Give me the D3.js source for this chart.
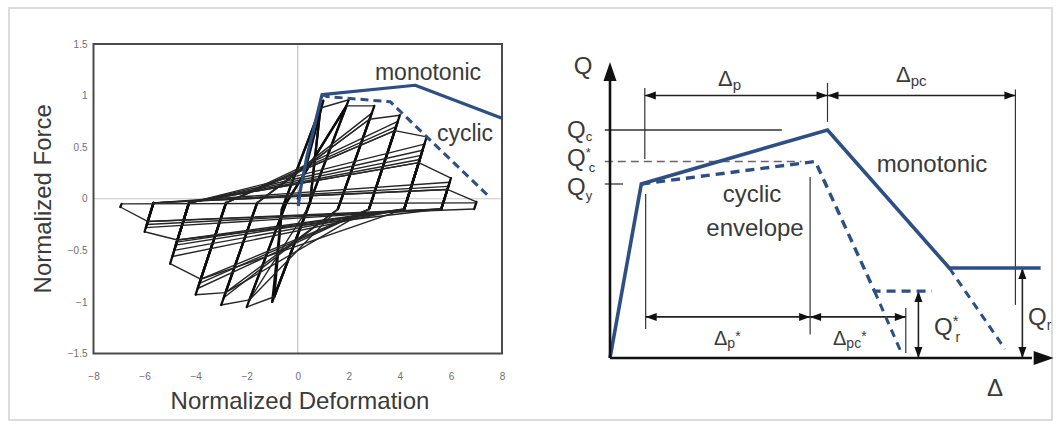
<!DOCTYPE html>
<html>
<head>
<meta charset="utf-8">
<script src="https://cdn.jsdelivr.net/npm/d3@7"></script>
<style>
  html, body { margin: 0; padding: 0; background: #fff; }
  svg { display: block; font-family: "Liberation Sans", Arial, Helvetica, sans-serif; }
</style>
</head>
<body>
<svg id="fig" width="1060" height="427"></svg>
<script>
// ---------- Left panel: normalized hysteresis response ----------
const xTicks = [-8, -6, -4, -2, 0, 2, 4, 6, 8];
const yTicks = [1.5, 1, 0.5, 0, -0.5, -1, -1.5];

// monotonic backbone (deformation, force)
const monotonicDef   = [0.02, 0.1, 0.36, 0.95, 4.6, 8.0];
const monotonicForce = [-0.07, 0.08, 0.41, 1.01, 1.1, 0.78];

// cyclic envelope
const cyclicDef   = [0.95, 1.15, 3.62, 7.5];
const cyclicForce = [1.01, 0.99, 0.94, 0.02];

// cyclic load path: [deformation, force]
const loopPath = [
  [0, 0], [1.0, 0.95], [-0.62, -0.1], [-1.0, -1.0], [0.48, -0.04],
  [0.89, 0.88], [-0.62, -0.1], [-0.92, -0.95], [0.48, -0.04],
  [0.89, 0.88], [2.0, 0.96], [0.37, -0.1], [-0.92, -0.95], [-2.0, -1.05], [-0.45, -0.04],
  [1.91, 0.9], [0.37, -0.1], [-1.89, -0.98], [-0.45, -0.04],
  [1.91, 0.9], [3.0, 0.9], [1.57, -0.1], [-1.89, -0.98], [-3.0, -1.03], [-1.59, -0.04],
  [2.9, 0.83], [1.57, -0.1], [-2.9, -0.96], [-1.59, -0.04],
  [2.81, 0.77], [1.57, -0.1], [-2.83, -0.91], [-1.59, -0.04],
  [2.81, 0.77], [4.0, 0.81], [2.79, -0.1], [-2.83, -0.91], [-4.0, -0.93], [-2.81, -0.04],
  [3.92, 0.75], [2.79, -0.1], [-3.92, -0.87], [-2.81, -0.04],
  [3.85, 0.7], [2.79, -0.1], [-3.85, -0.82], [-2.81, -0.04],
  [3.8, 0.66], [2.79, -0.1], [-3.8, -0.78], [-2.81, -0.04],
  [3.8, 0.66], [5.05, 0.6], [4.17, -0.1], [-3.8, -0.78], [-5.0, -0.63], [-4.26, -0.04],
  [4.96, 0.53], [4.17, -0.1], [-4.91, -0.56], [-4.26, -0.04],
  [4.89, 0.47], [4.17, -0.1], [-4.84, -0.5], [-4.26, -0.04],
  [4.83, 0.42], [4.17, -0.1], [-4.78, -0.45], [-4.26, -0.04],
  [4.78, 0.38], [4.17, -0.1], [-4.74, -0.42], [-4.26, -0.04],
  [4.74, 0.35], [4.17, -0.1], [-4.71, -0.4], [-4.26, -0.04],
  [4.74, 0.35], [6.0, 0.2], [5.62, -0.1], [-4.71, -0.4], [-6.0, -0.32], [-5.65, -0.04],
  [5.95, 0.16], [5.62, -0.1], [-5.95, -0.28], [-5.65, -0.04],
  [5.9, 0.12], [5.62, -0.1], [-5.91, -0.25], [-5.65, -0.04],
  [5.86, 0.09], [5.62, -0.1], [-5.88, -0.22], [-5.65, -0.04],
  [5.86, 0.09], [7.0, -0.03], [6.91, -0.1], [-5.88, -0.22], [-6.95, -0.08],
  [-6.9, -0.05], [7.0, -0.04]
];

// ---------- Right panel: idealized backbone ----------
const backboneDelta = [0, 0.72, 5.0, 7.8, 9.9];
const backboneQ     = [0, 5.8, 7.6, 3.0, 3.0];
const cyclicEnvDelta = [0.72, 4.72, 6.08, 7.4];
const cyclicEnvQ     = [5.8, 6.55, 2.23, 2.23];
const cyclicTailDelta = [6.08, 6.72];
const cyclicTailQ     = [2.23, 0.1];
const monoTailDelta = [7.8, 9.08];
const monoTailQ     = [3.0, 0.3];

const Qc = 7.6, QcStar = 6.55, Qy = 5.8, QrStar = 2.23, Qr = 3.0;

const svg = d3.select("#fig");
const blue = "#2e4f83";
const ink = "#222";
const textCol = "#3a3a3a";

// outer frame
svg.append("rect")
  .attr("x", 9).attr("y", 8).attr("width", 1043).attr("height", 412)
  .attr("fill", "none").attr("stroke", "#dcdcdc").attr("stroke-width", 2);

// ===== Left panel =====
const xL = d3.scaleLinear().domain([-8, 8]).range([93.5, 502]);
const yL = d3.scaleLinear().domain([-1.5, 1.5]).range([353.5, 44]);
const gL = svg.append("g");

// zero reference lines
gL.append("line")
  .attr("x1", xL(0)).attr("x2", xL(0)).attr("y1", yL(1.5)).attr("y2", yL(-1.5))
  .attr("stroke", "#b8b8b8").attr("stroke-width", 1);
gL.append("line")
  .attr("x1", xL(-8)).attr("x2", xL(8)).attr("y1", yL(0)).attr("y2", yL(0))
  .attr("stroke", "#c8c8c8").attr("stroke-width", 1);

// axes (labels only; frame drawn separately)
const axB = gL.append("g").attr("transform", `translate(0,${yL(-1.5)})`)
  .call(d3.axisBottom(xL).tickValues(xTicks).tickSize(0).tickPadding(19));
const axLft = gL.append("g").attr("transform", `translate(${xL(-8)},0)`)
  .call(d3.axisLeft(yL).tickValues(yTicks).tickSize(0).tickPadding(6).tickFormat(d3.format("")));
[axB, axLft].forEach(a => {
  a.select(".domain").remove();
  a.selectAll("text").attr("font-size", 10).attr("fill", "#707070")
    .attr("font-family", "'Liberation Sans Narrow','Liberation Sans',Arial,sans-serif");
});

// load path: steep branches heavier than shallow reloading branches
const steep = d => {
  const dx = Math.abs(xL(d[1][0]) - xL(d[0][0])), dy = Math.abs(yL(d[1][1]) - yL(d[0][1]));
  return dy > 1.6 * dx;
};
const segs = d3.pairs(loopPath);
gL.append("g").selectAll("line").data(segs).join("line")
  .attr("x1", d => xL(d[0][0])).attr("y1", d => yL(d[0][1]))
  .attr("x2", d => xL(d[1][0])).attr("y2", d => yL(d[1][1]))
  .attr("stroke", d => steep(d) ? "#0d0d0d" : "#262626")
  .attr("stroke-width", d => steep(d) ? 2.3 : 1.4)
  .attr("stroke-linecap", "round");

// plot frame
gL.append("rect")
  .attr("x", xL(-8)).attr("y", yL(1.5))
  .attr("width", xL(8) - xL(-8)).attr("height", yL(-1.5) - yL(1.5))
  .attr("fill", "none").attr("stroke", "#4a4a4a").attr("stroke-width", 2);

const lineL = d3.line().x(d => xL(d[0])).y(d => yL(d[1]));
gL.append("path")
  .attr("d", lineL(d3.zip(monotonicDef, monotonicForce)))
  .attr("fill", "none").attr("stroke", blue).attr("stroke-width", 3.2)
  .attr("stroke-linejoin", "round");
gL.append("path")
  .attr("d", lineL(d3.zip(cyclicDef, cyclicForce)))
  .attr("fill", "none").attr("stroke", blue).attr("stroke-width", 3)
  .attr("stroke-dasharray", "8,5");

gL.append("text").attr("x", 428).attr("y", 80).attr("text-anchor", "middle")
  .attr("font-size", 23).attr("fill", textCol).text("monotonic");
gL.append("text").attr("x", 465).attr("y", 141).attr("text-anchor", "middle")
  .attr("font-size", 23).attr("fill", textCol).text("cyclic");

gL.append("text").attr("transform", `translate(51,${yL(0)}) rotate(-90)`)
  .attr("text-anchor", "middle").attr("font-size", 24).attr("fill", textCol)
  .text("Normalized Force");
gL.append("text").attr("x", 300).attr("y", 409).attr("text-anchor", "middle")
  .attr("font-size", 24).attr("fill", textCol).text("Normalized Deformation");

// ===== Right panel =====
const xR = d3.scaleLinear().domain([0, 10]).range([610, 1045]);
const yR = d3.scaleLinear().domain([0, 10]).range([358, 58]);
const gR = svg.append("g");

function head(x, y, angle, len, wid) {
  gR.append("path")
    .attr("d", `M0,0 L${-len},${-wid / 2} L${-len},${wid / 2} Z`)
    .attr("transform", `translate(${x},${y}) rotate(${angle})`)
    .attr("fill", "#111");
}
function seg(x1, y1, x2, y2, w, col, dash) {
  const l = gR.append("line").attr("x1", x1).attr("y1", y1).attr("x2", x2).attr("y2", y2)
    .attr("stroke", col || ink).attr("stroke-width", w || 1.2);
  if (dash) l.attr("stroke-dasharray", dash);
  return l;
}

// reference levels
seg(xR(-0.12), yR(Qc), xR(3.95), yR(Qc), 1.3, "#333");
seg(xR(-0.12), yR(QcStar), xR(4.4), yR(QcStar), 1.3, "#666", "8,5");
seg(xR(-0.12), yR(Qy), xR(0.3), yR(Qy), 1.3, "#333");

// extension lines
seg(xR(0.8), yR(9.0), xR(0.8), yR(6.63), 1.2, "#333");
seg(xR(5.0), yR(9.17), xR(5.0), yR(7.87), 1.2, "#333");
seg(xR(9.32), yR(8.95), xR(9.32), yR(1.77), 1.2, "#333");
seg(xR(0.82), yR(5.47), xR(0.82), yR(0.97), 1.2, "#333");
seg(xR(4.6), yR(6.03), xR(4.6), yR(0.78), 1.2, "#333");
seg(xR(6.8), yR(1.67), xR(6.8), yR(0.17), 1.2, "#333");

// dimension lines
function dim(x1, x2, q) {
  const y = yR(q);
  seg(xR(x1), y, xR(x2), y, 1.6, "#222");
  head(xR(x1), y, 180, 11, 8);
  head(xR(x2), y, 0, 11, 8);
}
dim(0.8, 5.0, 8.75);
dim(5.0, 9.32, 8.75);
dim(0.82, 4.6, 1.37);
dim(4.6, 6.8, 1.37);

function vdim(x, q1, q2) {
  seg(xR(x), yR(q1), xR(x), yR(q2), 1.6, "#222");
  head(xR(x), yR(q2), -90, 11, 8);
  head(xR(x), yR(q1), 90, 11, 8);
}
vdim(7.09, 0, QrStar);
vdim(9.48, 0, Qr);

// backbone curves
const lineR = d3.line().x(d => xR(d[0])).y(d => yR(d[1]));
gR.append("path").attr("d", lineR(d3.zip(cyclicEnvDelta, cyclicEnvQ)))
  .attr("fill", "none").attr("stroke", blue).attr("stroke-width", 3.4)
  .attr("stroke-dasharray", "9,6");
gR.append("path").attr("d", lineR(d3.zip(cyclicTailDelta, cyclicTailQ)))
  .attr("fill", "none").attr("stroke", blue).attr("stroke-width", 3)
  .attr("stroke-dasharray", "8,6");
gR.append("path").attr("d", lineR(d3.zip(monoTailDelta, monoTailQ)))
  .attr("fill", "none").attr("stroke", blue).attr("stroke-width", 3)
  .attr("stroke-dasharray", "8,6");
gR.append("path").attr("d", lineR(d3.zip(backboneDelta, backboneQ)))
  .attr("fill", "none").attr("stroke", blue).attr("stroke-width", 3.6)
  .attr("stroke-linejoin", "miter");

// axes with arrows
seg(xR(0), yR(0), xR(0), yR(9.3), 2.6, "#111");
head(xR(0), yR(9.87), -90, 19, 13);
seg(xR(0), yR(0), xR(9.7), yR(0), 2.6, "#111");
head(xR(10.2), yR(0), 0, 20, 14);

// labels
function label(x, y, parts, anchor) {
  const t = gR.append("text").attr("x", x).attr("y", y).attr("fill", textCol)
    .attr("text-anchor", anchor || "start");
  parts.forEach(p => {
    const s = t.append("tspan").text(p.t).attr("font-size", p.s);
    if (p.dy) s.attr("dy", p.dy);
    if (p.dx) s.attr("dx", p.dx);
  });
  return t;
}
label(583, 74, [{ t: "Q", s: 24 }], "middle");
label(567, 138, [{ t: "Q", s: 24 }, { t: "c", s: 13, dy: 3 }]);
label(567, 166, [{ t: "Q", s: 24 }, { t: "*", s: 13, dy: -9 }, { t: "c", s: 13, dy: 15, dx: -2 }]);
label(567, 195, [{ t: "Q", s: 24 }, { t: "y", s: 13, dy: 5 }]);

label(752, 202, [{ t: "cyclic", s: 24 }], "middle");
label(755, 236, [{ t: "envelope", s: 24 }], "middle");
label(932, 172, [{ t: "monotonic", s: 24 }], "middle");

label(718, 86, [{ t: "Δ", s: 22 }, { t: "p", s: 15, dy: 4 }]);
label(896, 82, [{ t: "Δ", s: 22 }, { t: "pc", s: 15, dy: 4 }]);
label(714, 345, [{ t: "Δ", s: 20 }, { t: "p", s: 14, dy: 3 }, { t: "*", s: 14, dy: -7 }]);
label(833, 345, [{ t: "Δ", s: 20 }, { t: "pc", s: 14, dy: 3 }, { t: "*", s: 14, dy: -7 }]);

label(934, 335, [{ t: "Q", s: 24 }, { t: "*", s: 15, dy: -9 }, { t: "r", s: 14, dy: 16, dx: -3 }]);
label(1028, 325, [{ t: "Q", s: 24 }, { t: "r", s: 14, dy: 5 }]);
label(995, 396, [{ t: "Δ", s: 24 }], "middle");
</script>
</body>
</html>
